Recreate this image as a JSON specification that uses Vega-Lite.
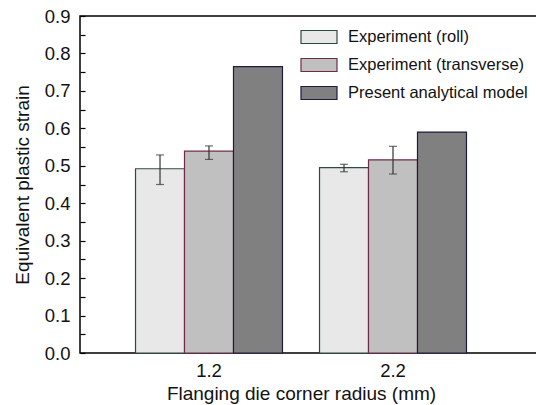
{
  "$schema": "https://vega.github.io/schema/vega-lite/v6.json",
  "width": 458,
  "height": 337,
  "autosize": {"type": "none"},
  "padding": {"left": 80, "top": 16, "right": 0, "bottom": 52},
  "background": "white",
  "config": {
    "font": "Liberation Sans",
    "view": {"stroke": "black", "strokeWidth": 1.5},
    "axis": {
      "domain": false,
      "tickColor": "black",
      "tickWidth": 1.2,
      "tickSize": 5,
      "offset": -5,
      "labelColor": "#111",
      "titleColor": "#111",
      "grid": false,
      "labelOverlap": false,
      "labelFont": "Liberation Sans",
      "titleFont": "Liberation Sans",
      "titleFontWeight": "normal",
      "zindex": 1
    }
  },
  "data": {
    "values": [
      {"radius": "1.2", "series": "Experiment (roll)", "value": 0.492, "lo": 0.450, "hi": 0.529},
      {"radius": "1.2", "series": "Experiment (transverse)", "value": 0.539, "lo": 0.517, "hi": 0.553},
      {"radius": "1.2", "series": "Present analytical model", "value": 0.765, "lo": null, "hi": null},
      {"radius": "2.2", "series": "Experiment (roll)", "value": 0.495, "lo": 0.484, "hi": 0.504},
      {"radius": "2.2", "series": "Experiment (transverse)", "value": 0.516, "lo": 0.478, "hi": 0.552},
      {"radius": "2.2", "series": "Present analytical model", "value": 0.590, "lo": null, "hi": null}
    ]
  },
  "encoding": {
    "x": {
      "field": "radius", "type": "nominal",
      "scale": {"domain": ["1.2", "2.2"], "range": [37, 405], "paddingInner": 0, "paddingOuter": 0},
      "axis": {"title": "Flanging die corner radius (mm)", "labelAngle": 0, "labelFontSize": 18.5, "titleFontSize": 19, "labelPadding": 8, "titlePadding": 5}
    },
    "xOffset": {
      "field": "series", "type": "nominal",
      "scale": {"domain": ["Experiment (roll)", "Experiment (transverse)", "Present analytical model"], "paddingInner": 0, "paddingOuter": 0.378}
    }
  },
  "layer": [
    {
      "mark": {"type": "bar", "strokeWidth": 1.2},
      "encoding": {
        "y": {
          "field": "value", "type": "quantitative",
          "scale": {"domain": [0, 0.9], "nice": false},
          "axis": {
            "title": "Equivalent plastic strain",
            "values": [0, 0.05, 0.1, 0.15, 0.2, 0.25, 0.3, 0.35, 0.4, 0.45, 0.5, 0.55, 0.6, 0.65, 0.7, 0.75, 0.8, 0.85, 0.9],
            "labelExpr": "round(datum.value * 20) % 2 == 0 ? format(datum.value, '.1f') : ''",
            "labelFontSize": 18.5, "titleFontSize": 19, "labelPadding": 10, "titlePadding": 12
          }
        },
        "fill": {
          "field": "series", "type": "nominal",
          "scale": {"domain": ["Experiment (roll)", "Experiment (transverse)", "Present analytical model"], "range": ["#e8e8e8", "#c0c0c0", "#808080"]},
          "legend": {
            "title": null, "orient": "none", "legendX": 220, "legendY": 2,
            "symbolType": "M-1,-0.36H1V0.36H-1Z", "symbolSize": 1296,
            "symbolStrokeColor": "#333", "symbolStrokeWidth": 1.2,
            "labelFontSize": 16.5, "labelColor": "#111", "labelOffset": 10, "labelLimit": 300,
            "rowPadding": -12.5, "padding": 0
          }
        },
        "stroke": {
          "field": "series", "type": "nominal",
          "scale": {"domain": ["Experiment (roll)", "Experiment (transverse)", "Present analytical model"], "range": ["#2e4a48", "#6e2c48", "#1c1c3c"]},
          "legend": null
        }
      }
    },
    {
      "transform": [{"filter": "datum.lo != null"}],
      "mark": {"type": "rule", "color": "#333", "strokeWidth": 1.2},
      "encoding": {
        "y": {
          "field": "lo", "type": "quantitative",
          "axis": {
            "title": "Equivalent plastic strain",
            "values": [0, 0.05, 0.1, 0.15, 0.2, 0.25, 0.3, 0.35, 0.4, 0.45, 0.5, 0.55, 0.6, 0.65, 0.7, 0.75, 0.8, 0.85, 0.9],
            "labelExpr": "round(datum.value * 20) % 2 == 0 ? format(datum.value, '.1f') : ''",
            "labelFontSize": 18.5, "titleFontSize": 19, "labelPadding": 10, "titlePadding": 12
          }
        },
        "y2": {"field": "hi"}
      }
    },
    {
      "transform": [{"filter": "datum.lo != null"}],
      "mark": {"type": "tick", "color": "#333", "thickness": 1.2, "size": 8},
      "encoding": {
        "y": {
          "field": "lo", "type": "quantitative",
          "axis": {
            "title": "Equivalent plastic strain",
            "values": [0, 0.05, 0.1, 0.15, 0.2, 0.25, 0.3, 0.35, 0.4, 0.45, 0.5, 0.55, 0.6, 0.65, 0.7, 0.75, 0.8, 0.85, 0.9],
            "labelExpr": "round(datum.value * 20) % 2 == 0 ? format(datum.value, '.1f') : ''",
            "labelFontSize": 18.5, "titleFontSize": 19, "labelPadding": 10, "titlePadding": 12
          }
        }
      }
    },
    {
      "transform": [{"filter": "datum.lo != null"}],
      "mark": {"type": "tick", "color": "#333", "thickness": 1.2, "size": 8},
      "encoding": {
        "y": {
          "field": "hi", "type": "quantitative",
          "axis": {
            "title": "Equivalent plastic strain",
            "values": [0, 0.05, 0.1, 0.15, 0.2, 0.25, 0.3, 0.35, 0.4, 0.45, 0.5, 0.55, 0.6, 0.65, 0.7, 0.75, 0.8, 0.85, 0.9],
            "labelExpr": "round(datum.value * 20) % 2 == 0 ? format(datum.value, '.1f') : ''",
            "labelFontSize": 18.5, "titleFontSize": 19, "labelPadding": 10, "titlePadding": 12
          }
        }
      }
    }
  ]
}
